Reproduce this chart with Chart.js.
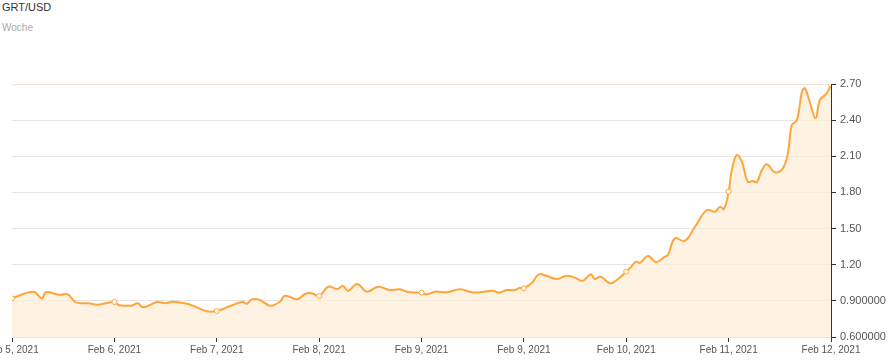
<!DOCTYPE html>
<html>
<head>
<meta charset="utf-8">
<script src="https://cdn.jsdelivr.net/npm/chart.js@4/dist/chart.umd.min.js"></script>
<style>
  html, body { margin: 0; padding: 0; background: #fff; }
  #wrap { position: relative; width: 892px; height: 361px; overflow: hidden; }
  #title { position: absolute; left: 2px; top: 1px; font: 11px "Liberation Sans", Arial, sans-serif; color: #333; }
  #sub { position: absolute; left: 2px; top: 22px; font: 10px "Liberation Sans", Arial, sans-serif; color: #aaa; }
  canvas { position: absolute; left: 0; top: 0; }
</style>
</head>
<body>
<div id="wrap">
  <div id="title">GRT/USD</div>
  <div id="sub">Woche</div>
  <canvas id="c" width="892" height="361"></canvas>
</div>
<script>
// Hours since start of the window
const hours = [
  0, 5, 7, 8, 11, 13, 15, 18, 20, 24,
  25, 28, 29.5, 30.7, 34, 36, 37.7, 41, 42.4, 45.7,
  48, 51, 54, 55, 56.3, 58.1, 60.5, 62.8, 64, 66.8,
  68.7, 70.3, 72, 74.1, 76.2, 77.6, 78.8, 80.9, 83.2, 85.8,
  88.6, 90.9, 92.8, 96, 97.3, 99.1, 102, 105, 107.8, 109.7,
  112.7, 114.1, 116, 117.9, 119, 120, 121.9, 123.5, 125.4, 127.7,
  130, 132, 133.8, 135.7, 136.6, 138, 140.2, 142, 144, 145.1,
  146.3, 147.2, 149.1, 151, 153.1, 153.8, 155.4, 157.7, 160.1, 162.9,
  164.8, 166, 166.9, 168, 168.75, 169.9, 171.1, 172.5, 173.7, 174.6,
  175.8, 177, 178.8, 180.7, 181.9, 182.8, 184, 185.2, 185.9, 187,
  188.4, 189.4, 191, 192
];
// GRT price in USD
const prices = [
  0.921, 0.976, 0.920, 0.973, 0.950, 0.955, 0.888, 0.880, 0.868, 0.890,
  0.866, 0.860, 0.880, 0.846, 0.890, 0.880, 0.893, 0.876, 0.860, 0.813,
  0.816, 0.855, 0.893, 0.876, 0.913, 0.907, 0.860, 0.893, 0.943, 0.913,
  0.957, 0.963, 0.940, 1.017, 0.998, 1.023, 0.982, 1.040, 0.976, 1.017,
  0.990, 0.996, 0.973, 0.968, 0.954, 0.976, 0.971, 0.996, 0.971, 0.971,
  0.984, 0.968, 0.990, 0.990, 1.009, 1.004, 1.050, 1.120, 1.106, 1.081,
  1.109, 1.092, 1.067, 1.120, 1.081, 1.100, 1.046, 1.079, 1.142, 1.180,
  1.225, 1.215, 1.272, 1.222, 1.267, 1.280, 1.419, 1.397, 1.515, 1.654,
  1.640, 1.681, 1.662, 1.806, 1.986, 2.110, 2.055, 1.890, 1.895, 1.884,
  1.986, 2.033, 1.967, 2.000, 2.124, 2.359, 2.400, 2.636, 2.664, 2.553,
  2.415, 2.567, 2.622, 2.697
];
// x-axis tick labels, one per 24 h
const dayLabels = [
  "Feb 5, 2021", "Feb 6, 2021", "Feb 7, 2021", "Feb 8, 2021", "Feb 9, 2021",
  "Feb 9, 2021", "Feb 10, 2021", "Feb 11, 2021", "Feb 12, 2021"
];
// y-axis tick labels
const yTickLabels = {
  "0.6": "0.600000", "0.9": "0.900000", "1.2": "1.20", "1.5": "1.50",
  "1.8": "1.80", "2.1": "2.10", "2.4": "2.40", "2.7": "2.70"
};

const points = hours.map((h, i) => ({ x: h, y: prices[i] }));
const lineColor = '#ffa53a';

new Chart(document.getElementById('c'), {
  type: 'line',
  data: {
    datasets: [{
      data: points,
      borderColor: lineColor,
      borderWidth: 2,
      backgroundColor: 'rgba(253, 236, 214, 0.7)',
      fill: 'origin',
      tension: 0.4,
      pointRadius: ctx => (ctx.raw && ctx.raw.x % 24 === 0) ? 2.5 : 0,
      pointBackgroundColor: '#fff',
      pointBorderColor: lineColor,
      pointBorderWidth: 1,
      pointHoverRadius: 0
    }]
  },
  options: {
    responsive: false,
    animation: false,
    events: [],
    layout: { padding: { left: 12, top: 84, right: 0, bottom: 0 } },
    plugins: { legend: { display: false }, tooltip: { enabled: false } },
    scales: {
      x: {
        type: 'linear',
        min: 0, max: 192,
        afterBuildTicks: s => { s.ticks = dayLabels.map((_, i) => ({ value: i * 24 })); },
        ticks: {
          autoSkip: false, maxRotation: 0,
          color: '#555', font: { family: 'Liberation Sans', size: 10 }, padding: 2,
          callback: (v) => dayLabels[Math.round(v / 24)]
        },
        grid: { drawOnChartArea: false, drawTicks: true, tickLength: 5, color: '#333', tickColor: '#333' },
        border: { display: false },
        afterFit: s => { s.height = 24; s.paddingLeft = 0; s.paddingRight = 0; }
      },
      y: {
        position: 'right',
        min: 0.6, max: 2.7,
        afterBuildTicks: s => { s.ticks = Object.keys(yTickLabels).map(k => ({ value: parseFloat(k) })); },
        ticks: {
          color: '#555', font: { family: 'Liberation Sans', size: 11 }, padding: 4,
          callback: v => yTickLabels[String(Math.round(v * 10) / 10)]
        },
        grid: {
          color: ctx => (ctx.tick && ctx.tick.value === 2.7) ? '#f6e4d6' : '#e6e6e6',
          tickColor: '#333', tickLength: 5, drawTicks: true
        },
        border: { display: true, color: '#333', width: 1 },
        afterFit: s => { s.width = 61; s.paddingTop = 0; s.paddingBottom = 0; }
      }
    }
  }
});
</script>
</body>
</html>
